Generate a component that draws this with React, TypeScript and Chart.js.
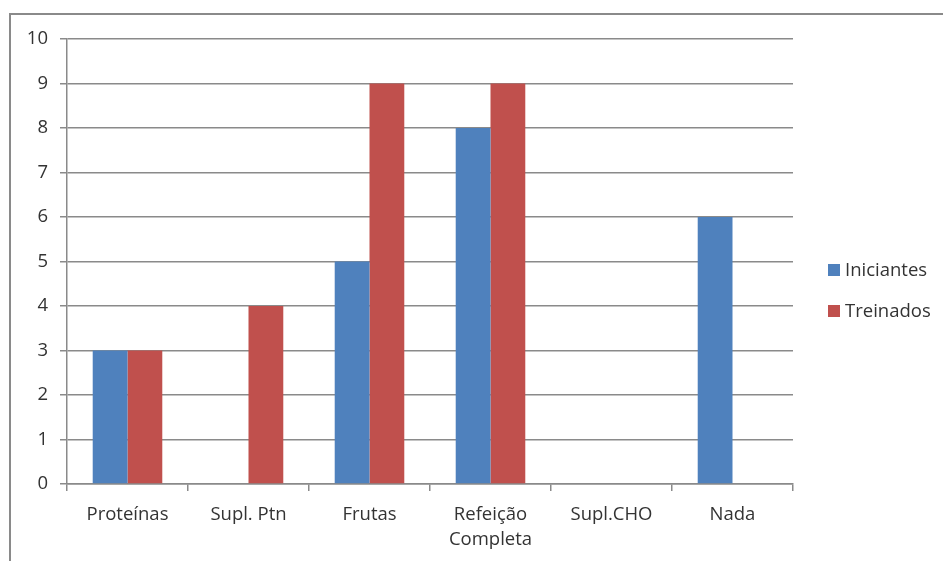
import React, { useEffect, useRef } from 'react';
import { Chart, registerables } from 'chart.js';

Chart.register(...registerables);

// Categories on the x axis (multi-line label as an array)
const categories: (string | string[])[] = [
  'Proteínas',
  'Supl. Ptn',
  'Frutas',
  ['Refeição', 'Completa'],
  'Supl.CHO',
  'Nada',
];

const seriesNames = ['Iniciantes', 'Treinados'];
const iniciantes = [3, 0, 5, 8, 0, 6];
const treinados = [3, 4, 9, 9, 0, 0];

const yMin = 0;
const yMax = 10;
const yStep = 1;

const BLUE = '#4F81BD';
const RED = '#C0504D';
const GRID = '#8a8a8a';
const TEXT = '#333333';
const FONT_FAMILY = '"Open Sans", Lato, sans-serif';
const FONT_SIZE = 18.5;

// Legend drawn to the right of the plot, stacked vertically
const sideLegend = {
  id: 'sideLegend',
  afterDraw(chart: any) {
    const { ctx, chartArea } = chart;
    const x = chartArea.right + 35;
    const rowsY = [270, 311];
    ctx.save();
    ctx.font = `${FONT_SIZE}px ${FONT_FAMILY}`;
    ctx.textBaseline = 'middle';
    ctx.textAlign = 'left';
    chart.data.datasets.forEach((ds: any, i: number) => {
      const y = rowsY[i];
      ctx.fillStyle = ds.backgroundColor;
      ctx.fillRect(x, y - 6, 12, 12);
      ctx.fillStyle = TEXT;
      ctx.fillText(ds.label, x + 17, y + 1);
    });
    ctx.restore();
  },
};

export default function App() {
  const canvasRef = useRef<HTMLCanvasElement | null>(null);

  useEffect(() => {
    if (!canvasRef.current) return;
    const chart = new Chart(canvasRef.current, {
      type: 'bar',
      data: {
        labels: categories,
        datasets: [
          { label: seriesNames[0], data: iniciantes, backgroundColor: BLUE, borderWidth: 0 },
          { label: seriesNames[1], data: treinados, backgroundColor: RED, borderWidth: 0 },
        ],
      },
      options: {
        animation: false,
        responsive: false,
        maintainAspectRatio: false,
        layout: { padding: { top: 39, right: 150, bottom: 0, left: 0 } },
        datasets: {
          bar: { categoryPercentage: 0.575, barPercentage: 1 },
        },
        plugins: {
          legend: { display: false },
          tooltip: { enabled: false },
        },
        scales: {
          x: {
            grid: {
              offset: true,
              drawOnChartArea: false,
              drawTicks: true,
              tickLength: 7,
              color: GRID,
              lineWidth: 1.5,
            },
            border: { display: true, color: GRID, width: 1.5 },
            ticks: {
              color: TEXT,
              padding: 11,
              maxRotation: 0,
              autoSkip: false,
              font: { family: FONT_FAMILY, size: FONT_SIZE, lineHeight: '25px' as any },
            },
            afterFit(scale: any) {
              scale.height = 77;
            },
          },
          y: {
            min: yMin,
            max: yMax,
            ticks: {
              stepSize: yStep,
              color: TEXT,
              padding: 12,
              font: { family: FONT_FAMILY, size: FONT_SIZE },
            },
            grid: {
              color: GRID,
              lineWidth: 1.5,
              drawTicks: true,
              tickLength: 7,
            },
            border: { display: true, color: GRID, width: 1.5 },
            afterFit(scale: any) {
              scale.width = 67;
            },
          },
        },
      },
      plugins: [sideLegend],
    });
    return () => chart.destroy();
  }, []);

  return (
    <div style={{ position: 'fixed', left: 0, top: 0, width: 943, height: 561, background: '#fff', overflow: 'hidden' }}>
      <div
        style={{
          position: 'absolute',
          left: 9,
          top: 13,
          width: 1000,
          height: 700,
          border: `2px solid ${GRID}`,
          boxSizing: 'border-box',
        }}
      />
      <canvas
        ref={canvasRef}
        width={943}
        height={561}
        style={{ position: 'absolute', left: 0, top: 0, width: 943, height: 561 }}
      />
    </div>
  );
}
